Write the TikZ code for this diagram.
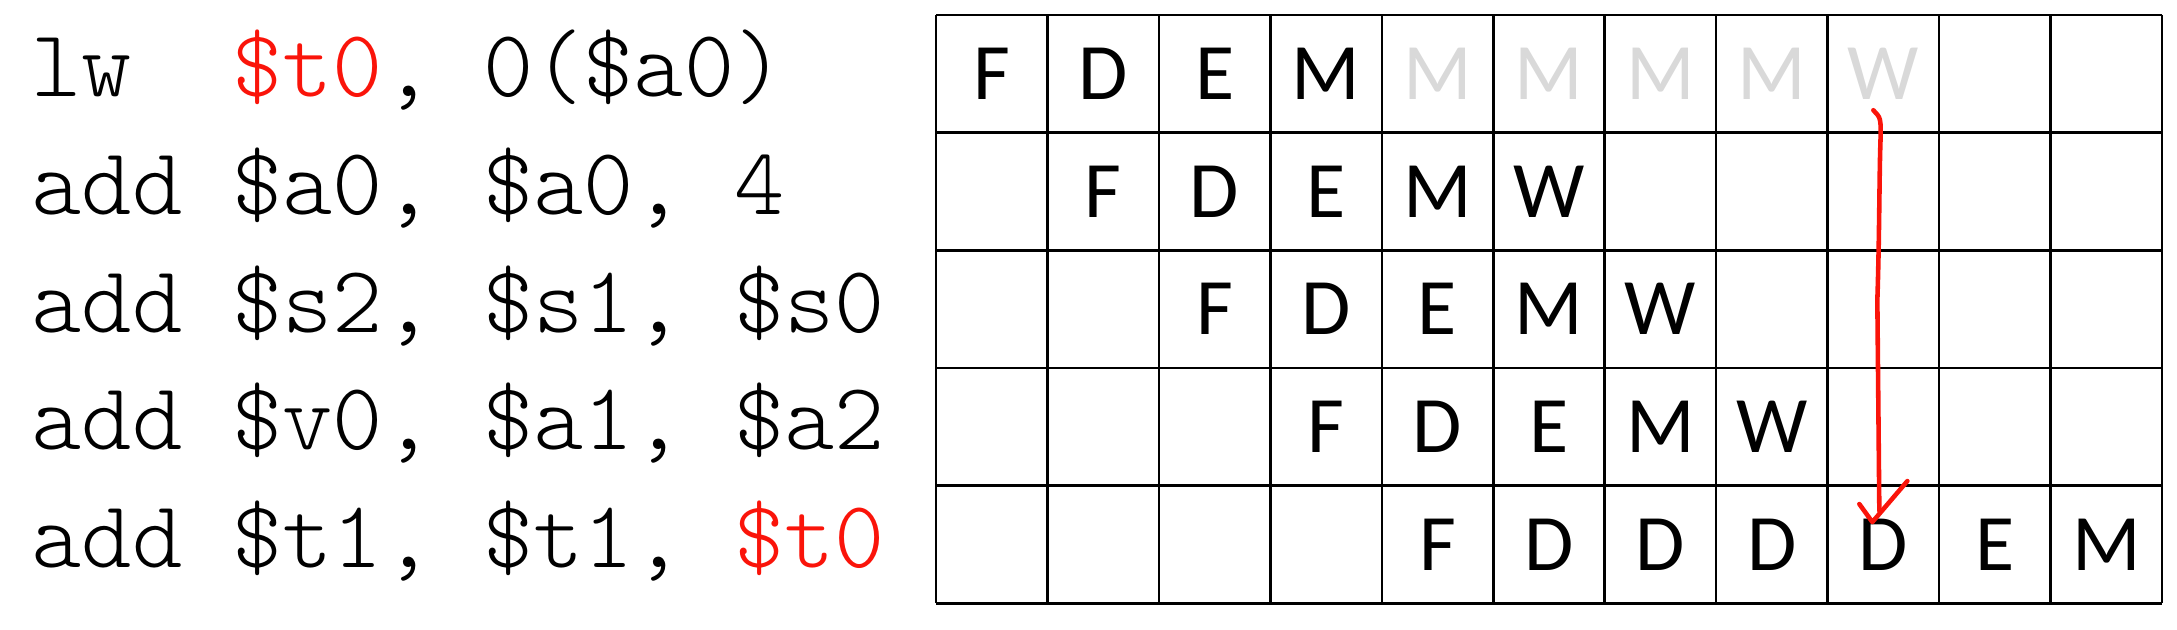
\documentclass[tikz,border=0pt]{standalone}
\usepackage{fontspec}
\newfontfamily\stagefont{Carlito}
\setmonofont{Latin Modern Mono Light}
\definecolor{hazard}{RGB}{250,20,10}
\definecolor{stall}{RGB}{217,217,217}
\tikzset{
  cell/.style={line width=0.7pt},
  stage/.style={font=\stagefont\fontsize{22.8}{24}\selectfont, inner sep=0pt},
  instr/.style={font=\ttfamily\fontsize{27.2}{30}\selectfont, anchor=base west, inner sep=0pt},
  pen/.style={draw=hazard, line width=1.3pt, line cap=round, line join=round}
}
\begin{document}
\begin{tikzpicture}
\useasboundingbox (0,0) rectangle (21.77,-6.30);
% the code
\node[instr] (i1) at (0.31,-0.970) {lw~~\textcolor{hazard}{\$t0},~0(\$a0)};
\node[instr] (i2) at (0.31,-2.145) {add~\$a0,~\$a0,~4};
\node[instr] (i3) at (0.31,-3.322) {add~\$s2,~\$s1,~\$s0};
\node[instr] (i4) at (0.31,-4.498) {add~\$v0,~\$a1,~\$a2};
\node[instr] (i5) at (0.31,-5.675) {add~\$t1,~\$t1,~\textcolor{hazard}{\$t0}};
% the pipeline table
\foreach \c in {0,...,11}
  \draw[cell] ({9.36+\c*1.1145},-0.15) -- ++(0,-5.883);
\foreach \r in {0,...,5}
  \draw[cell] (9.36,{-0.15-\r*1.1766}) -- ++(12.2595,0);
\foreach \r/\c/\L in {1/0/F,1/1/D,1/2/E,1/3/M,
    2/1/F,2/2/D,2/3/E,2/4/M,2/5/W,
    3/2/F,3/3/D,3/4/E,3/5/M,3/6/W,
    4/3/F,4/4/D,4/5/E,4/6/M,4/7/W,
    5/4/F,5/5/D,5/6/D,5/7/D,5/8/D,5/9/E,5/10/M}
  \node[stage] (s\r-\c) at ({9.36+(\c+0.5)*1.1145},{-0.15-(\r-0.5)*1.1766}) {\L};
\foreach \c/\L in {4/M,5/M,6/M,7/M,8/W}
  \node[stage, text=stall] (s1-\c) at ({9.36+(\c+0.5)*1.1145},{-0.15-0.5*1.1766}) {\L};
% the red mark
\coordinate (tip) at ([xshift=-0.11cm,yshift=-0.04cm]s5-8.north);
\draw[pen] ([xshift=-0.10cm,yshift=-0.10cm]s1-8.south) .. controls +(0.07,-0.08) and +(0.01,0.3) .. ([xshift=-0.03cm,yshift=-0.45cm]s1-8.south)
  .. controls +(-0.01,-0.3) and +(0.02,0.6) .. ([xshift=-0.06cm,yshift=-2.0cm]s1-8.south)
  -- ([xshift=0.07cm,yshift=0.11cm]tip);
\draw[pen] ([xshift=-0.13cm,yshift=0.18cm]tip) -- (tip) -- ([xshift=0.35cm,yshift=0.41cm]tip);
\end{tikzpicture}
\end{document}
